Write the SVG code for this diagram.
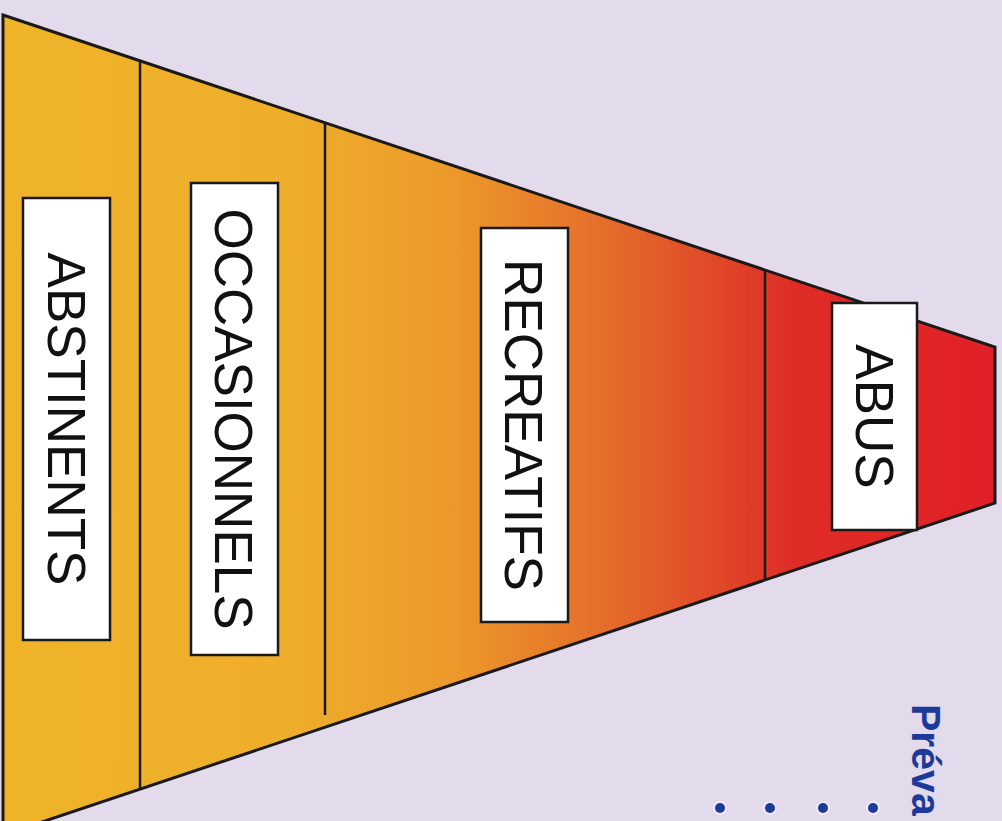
<svg xmlns="http://www.w3.org/2000/svg" width="1002" height="821" viewBox="0 0 1002 821">
  <defs>
    <linearGradient id="funnelGrad" gradientUnits="userSpaceOnUse" x1="0" y1="0" x2="995" y2="0">
      <stop offset="0" stop-color="#EFB42A"/>
      <stop offset="0.3" stop-color="#EEAD2A"/>
      <stop offset="0.45" stop-color="#EC9A2A"/>
      <stop offset="0.6" stop-color="#E5702A"/>
      <stop offset="0.72" stop-color="#E04828"/>
      <stop offset="0.8" stop-color="#DF2C26"/>
      <stop offset="1" stop-color="#E11F28"/>
    </linearGradient>
    <style>
      .box { fill: #FFFFFF; stroke: #1A1A1A; stroke-width: 2.5; }
      .label { font-family: "Liberation Sans", Arial, sans-serif; font-size: 53px; fill: #111111; text-anchor: middle; }
      .divider { stroke: #1A1A1A; stroke-width: 2.5; fill: none; }
      .blue { fill: #1C3A9A; }
    </style>
  </defs>

  <rect x="0" y="0" width="1002" height="821" fill="#E3DAEC"/>

  <g id="funnel">
    <polygon points="3,15 995,347 995,503 3,835" fill="url(#funnelGrad)" stroke="#1A1A1A" stroke-width="3" stroke-linejoin="miter"/>
  </g>

  <g id="connectors">
    <line class="divider" x1="140" y1="61" x2="140" y2="789"/>
    <line class="divider" x1="325" y1="123" x2="325" y2="715"/>
    <line class="divider" x1="765" y1="270" x2="765" y2="579"/>
  </g>

  <g id="abstinents">
    <rect class="box" x="23" y="198" width="87" height="442"/>
    <text class="label" transform="translate(48,419) rotate(90)">ABSTINENTS</text>
  </g>

  <g id="occasionnels">
    <rect class="box" x="191" y="183" width="87" height="472"/>
    <text class="label" transform="translate(215,419) rotate(90)">OCCASIONNELS</text>
  </g>

  <g id="recreatifs">
    <rect class="box" x="481" y="228" width="87" height="394"/>
    <text class="label" transform="translate(505,425) rotate(90)">RECREATIFS</text>
  </g>

  <g id="abus">
    <rect class="box" x="832" y="303" width="85" height="227"/>
    <text class="label" transform="translate(856,416.5) rotate(90)">ABUS</text>
  </g>

  <g id="prevalence">
    <text transform="translate(912,704) rotate(90)" font-family="Liberation Sans, Arial, sans-serif" font-size="41" font-weight="bold" class="blue">Préva</text>
  </g>

  <g id="bullets">
    <circle cx="720" cy="808" r="7" fill="#F2EEF8" opacity="0.8"/>
    <circle cx="770" cy="808" r="7" fill="#F2EEF8" opacity="0.8"/>
    <circle cx="823" cy="808" r="7" fill="#F2EEF8" opacity="0.8"/>
    <circle cx="873" cy="808" r="7" fill="#F2EEF8" opacity="0.8"/>
    <circle class="blue" cx="720" cy="808" r="5"/>
    <circle class="blue" cx="770" cy="808" r="5"/>
    <circle class="blue" cx="823" cy="808" r="5"/>
    <circle class="blue" cx="873" cy="808" r="5"/>
  </g>
</svg>
